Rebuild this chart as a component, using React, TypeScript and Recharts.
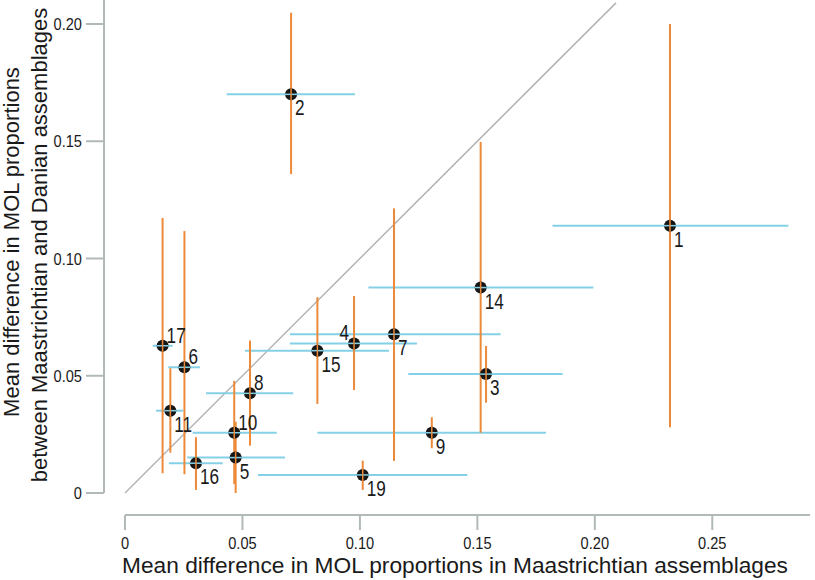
import { ErrorBar, Label, ReferenceLine, Scatter, ScatterChart, XAxis, YAxis } from "recharts";

const sites = [1, 2, 3, 4, 5, 6, 7, 8, 9, 10, 11, 14, 15, 16, 17, 19];
const maastrichtian = [0.232, 0.0707, 0.1537, 0.0975, 0.0471, 0.0253, 0.1145, 0.0532, 0.1306, 0.0465, 0.0193, 0.1514, 0.0819, 0.0302, 0.016, 0.1012];
const maastrichtianLow = [0.182, 0.0433, 0.1206, 0.0702, 0.0265, 0.0184, 0.0702, 0.0345, 0.0819, 0.0288, 0.0132, 0.1036, 0.0511, 0.0187, 0.0118, 0.0566];
const maastrichtianHigh = [0.2824, 0.0979, 0.1863, 0.1243, 0.0681, 0.0319, 0.1599, 0.0716, 0.1792, 0.0646, 0.0248, 0.1994, 0.1124, 0.0416, 0.0203, 0.1457];
const danian = [0.114, 0.17, 0.0507, 0.0638, 0.0151, 0.0536, 0.0677, 0.0425, 0.0257, 0.0257, 0.0351, 0.0876, 0.0607, 0.0127, 0.0628, 0.0077];
const danianLow = [0.028, 0.136, 0.0385, 0.0439, 0, 0.008, 0.0137, 0.0202, 0.0191, 0.0038, 0.0172, 0.0257, 0.038, 0.0013, 0.0084, 0.0013];
const danianHigh = [0.2, 0.2048, 0.0627, 0.084, 0.0304, 0.1117, 0.1214, 0.065, 0.0323, 0.0478, 0.0532, 0.1497, 0.0835, 0.0238, 0.1173, 0.0138];

const xTicks = [0, 0.05, 0.1, 0.15, 0.2, 0.25];
const yTicks = [0, 0.05, 0.1, 0.15, 0.2];

// where the number sits next to its dot: ar = above right, al = above left, default below right
const labelSide: { [key: number]: string } = { 17: "ar", 6: "ar", 8: "ar", 10: "ar", 4: "al" };

const X_MIN = -0.00894;
const X_MAX = 0.2916;
const Y_MIN = -0.00938;
const Y_MAX = 0.21023;

const AXIS = "#b1b9b9";
const ORANGE = "#ec8a3a";
const BLUE = "#84d0e6";
const INK = "#1a1a1a";
const SANS = "'Liberation Sans', Arial, Helvetica, sans-serif";

const data = sites.map((id, i) => ({
  id,
  x: maastrichtian[i],
  y: danian[i],
  ex: [maastrichtian[i] - maastrichtianLow[i], maastrichtianHigh[i] - maastrichtian[i]],
  ey: [danian[i] - danianLow[i], danianHigh[i] - danian[i]],
}));

const fmt = (v: number) => (v === 0 ? "0" : v.toFixed(2));

// the figure uses a condensed face, so squeeze the numbers a bit
function XTick(props: any) {
  const { x, y, payload } = props;
  return (
    <text transform={`translate(${x},${y}) scale(0.86,1)`} dy="0.71em" textAnchor="middle" fontSize={17} fontFamily={SANS} fill={INK}>
      {fmt(payload.value)}
    </text>
  );
}

function YTick(props: any) {
  const { x, y, payload } = props;
  return (
    <text transform={`translate(${x},${y}) scale(0.86,1)`} dy="0.355em" textAnchor="end" fontSize={17} fontFamily={SANS} fill={INK}>
      {fmt(payload.value)}
    </text>
  );
}

function Dot(props: any) {
  const { cx, cy, payload } = props;
  const side = labelSide[payload.id] || "br";
  let tx = cx + 4;
  let ty = cy + 21;
  let anchor = "start";
  if (side === "ar") ty = cy - 3;
  if (side === "al") {
    tx = cx - 5;
    ty = cy - 3;
    anchor = "end";
  }
  return (
    <g>
      <circle cx={cx} cy={cy} r={6} fill="#161616" />
      <line x1={cx - 6} y1={cy} x2={cx + 6} y2={cy} stroke={BLUE} strokeWidth={1.5} />
      <line x1={cx} y1={cy - 6} x2={cx} y2={cy + 6} stroke={ORANGE} strokeWidth={1.5} />
      <text transform={`translate(${tx},${ty}) scale(0.78,1)`} textAnchor={anchor} fontSize={22} fontFamily={SANS} fill={INK}>
        {payload.id}
      </text>
    </g>
  );
}

export default function App() {
  return (
    <div style={{ position: "absolute", left: 0, top: 0, width: 815, height: 580, background: "#fff" }}>
      <ScatterChart width={815} height={580} margin={{ top: 0, right: 5, bottom: 0, left: 0 }}>
        <XAxis
          type="number"
          dataKey="x"
          domain={[X_MIN, X_MAX]}
          ticks={xTicks}
          allowDataOverflow
          height={65}
          axisLine={false}
          tickLine={{ stroke: AXIS, strokeWidth: 2 }}
          tickSize={15}
          tickMargin={7}
          tick={<XTick />}
        >
          <Label
            content={() => (
              <text x={455} y={573} textAnchor="middle" fontSize={22.7} fontFamily={SANS} fill={INK}>
                Mean difference in MOL proportions in Maastrichtian assemblages
              </text>
            )}
          />
        </XAxis>
        <YAxis
          type="number"
          dataKey="y"
          domain={[Y_MIN, Y_MAX]}
          ticks={yTicks}
          allowDataOverflow
          width={104}
          axisLine={false}
          tickLine={{ stroke: AXIS, strokeWidth: 2 }}
          tickSize={18}
          tickMargin={4}
          tick={<YTick />}
        >
          <Label
            content={() => (
              <g fontSize={22} fontFamily={SANS} fill={INK}>
                <text transform="translate(18.5,242) rotate(-90)" textAnchor="middle">
                  Mean difference in MOL proportions
                </text>
                <text transform="translate(47,245) rotate(-90)" textAnchor="middle">
                  between Maastrichtian and Danian assemblages
                </text>
              </g>
            )}
          />
        </YAxis>
        <ReferenceLine
          segment={[{ x: 0, y: Y_MIN }, { x: X_MAX, y: Y_MIN }]}
          stroke={AXIS}
          strokeWidth={2}
          ifOverflow="visible"
        />
        <ReferenceLine
          segment={[{ x: X_MIN, y: 0 }, { x: X_MIN, y: Y_MAX }]}
          stroke={AXIS}
          strokeWidth={2}
          ifOverflow="visible"
        />
        <ReferenceLine
          segment={[{ x: 0, y: 0 }, { x: 0.209, y: 0.209 }]}
          stroke="#b4b4b4"
          strokeWidth={1.5}
          ifOverflow="visible"
        />
        <Scatter data={data} shape={Dot} isAnimationActive={false}>
          <ErrorBar dataKey="ex" direction="x" width={0} stroke={BLUE} strokeWidth={2} />
          <ErrorBar dataKey="ey" direction="y" width={0} stroke={ORANGE} strokeWidth={2} />
        </Scatter>
      </ScatterChart>
    </div>
  );
}
